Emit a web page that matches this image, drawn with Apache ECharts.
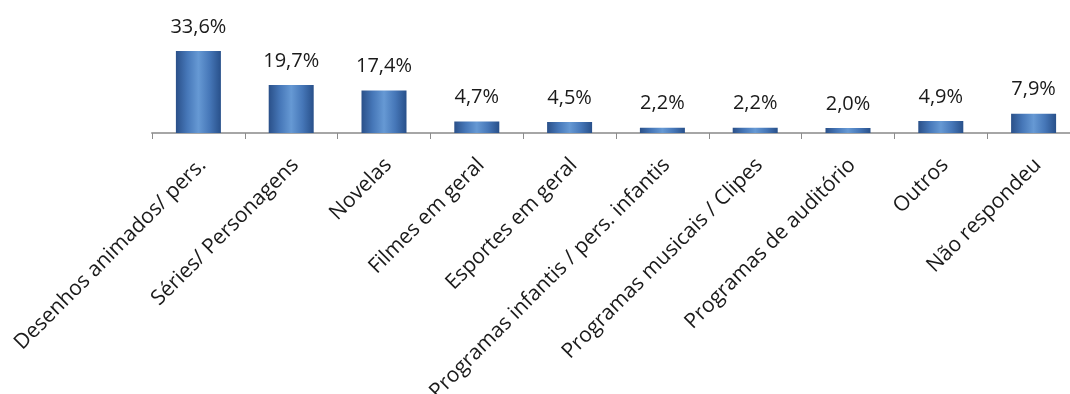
<!DOCTYPE html>
<html>
<head>
<meta charset="utf-8">
<script src="https://cdn.jsdelivr.net/npm/echarts@6/dist/echarts.min.js"></script>
<style>html,body{margin:0;padding:0;background:#fff;}#c{width:1070px;height:394px;}</style>
</head>
<body>
<div id="c"></div>
<script>
const categories = ["Desenhos animados/ pers.", "Séries/ Personagens", "Novelas", "Filmes em geral", "Esportes em geral", "Programas infantis / pers. infantis", "Programas musicais / Clipes", "Programas de auditório", "Outros", "Não respondeu"];
const values = [33.6, 19.7, 17.4, 4.7, 4.5, 2.2, 2.2, 2.0, 4.9, 7.9];
const valueLabels = ["33,6%", "19,7%", "17,4%", "4,7%", "4,5%", "2,2%", "2,2%", "2,0%", "4,9%", "7,9%"];

const chart = echarts.init(document.getElementById('c'));
const barColor = new echarts.graphic.LinearGradient(0, 0, 1, 0, [
  {offset: 0, color: '#2a5089'},
  {offset: 0.25, color: '#4677b8'},
  {offset: 0.5, color: '#6699d4'},
  {offset: 0.75, color: '#4677b8'},
  {offset: 1, color: '#28508a'}
]);
chart.setOption({
  animation: false,
  backgroundColor: '#ffffff',
  grid: {left: 152, right: -10, top: 35.3, bottom: 394 - 133, containLabel: false, outerBoundsMode: 'none'},
  xAxis: {
    type: 'category',
    data: categories,
    boundaryGap: true,
    axisLine: {show: true, lineStyle: {color: '#a6a6a6', width: 2}},
    axisTick: {show: true, length: 6, lineStyle: {color: '#8c8c8c', width: 1}},
    axisLabel: {
      rotate: 45,
      interval: 0,
      margin: 33,
      padding: [0, -6, 0, 0],
      fontFamily: 'Open Sans',
      fontSize: 21,
      color: '#1a1a1a'
    }
  },
  yAxis: {
    type: 'value',
    min: 0,
    max: 40,
    show: false,
    splitLine: {show: false}
  },
  series: [{
    type: 'bar',
    data: values,
    barWidth: 45,
    itemStyle: {color: barColor},
    label: {
      show: true,
      position: 'top',
      distance: 14,
      fontFamily: 'Open Sans',
      fontSize: 20,
      color: '#1a1a1a',
      formatter: p => valueLabels[p.dataIndex]
    }
  }]
});
</script>
</body>
</html>
